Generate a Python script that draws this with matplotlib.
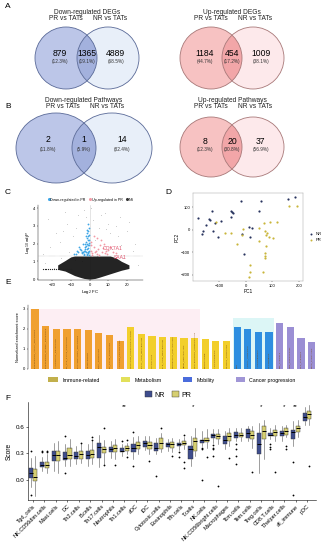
import matplotlib
matplotlib.use('Agg')
import matplotlib.pyplot as plt
from matplotlib.patches import Ellipse, Patch
from matplotlib.lines import Line2D

plt.rcParams['font.family'] = ['Liberation Sans', 'DejaVu Sans']

W, H = 326, 550

# ---------------- data ----------------
# Venn counts (left only, overlap, right only)
deg_down = [879, 1365, 4889]
deg_up = [1184, 454, 1009]
path_down = [2, 1, 14]
path_up = [8, 20, 37]

# volcano (C)
blue_x = [-0.3, -0.5, -0.8, -1.0, -1.2, -1.5, -1.8, -2.1, -2.5, -3.0, -3.5, -4.2, -5.0, -6.0, -7.2,
          -8.5, -0.4, -0.7, -1.1, -1.6, -2.2, -2.8, -0.6, -1.3, -0.9, -2.0, -3.8, -5.5, -0.5, -1.4,
          -0.2, -0.6, -1.0, -1.7, -2.4, -3.2, -4.5, -0.3, -0.8, -1.5, -2.6, -0.4, -1.2, -3.4, -6.5]
blue_y = [2.9, 2.5, 2.2, 1.9, 2.6, 1.7, 2.1, 1.5, 1.8, 1.6, 2.0, 1.45, 1.7, 1.5, 1.4,
          1.42, 1.6, 1.45, 1.5, 2.3, 2.0, 1.4, 3.1, 1.35, 1.75, 2.4, 1.55, 1.8, 2.05, 2.75,
          1.9, 1.55, 2.45, 1.85, 1.6, 1.38, 1.62, 2.2, 2.7, 1.4, 1.7, 1.35, 1.95, 1.5, 1.6]
red_x = [0.5, 1.0, 1.5, 2.2, 3.0, 3.8, 4.5, 5.5, 6.5, 7.5, 8.5, 9.5, 11, 12.5, 14, 1.2, 2.5, 4.0, 6.0,
         8.0, 10.0, 0.8, 3.3, 5.0, 7.0]
red_y = [1.6, 2.1, 1.45, 1.8, 1.5, 2.3, 1.7, 1.9, 1.55, 2.0, 1.6, 1.4, 1.8, 1.5, 1.45, 1.35, 2.4, 1.4, 2.2,
         1.45, 1.65, 1.9, 1.6, 1.38, 1.75]
gray_x = [-24, -21, -18, -15, -12, -9, -6, -3, 2, 5, 8, 11, 14, 17, 20, 23, 26, -22, -16, -11, -7, -2, 3, 9,
          15, 21, -19, -13, -4, 6, 12, 18, 24, -8, 1, 10, -25, -14, 4, 16]
gray_y = [0.9, 1.8, 2.6, 1.2, 3.1, 2.4, 3.6, 3.9, 3.3, 2.9, 3.7, 2.6, 3.0, 1.9, 2.7, 1.6, 0.8, 3.4, 2.1, 1.5,
          2.9, 3.5, 2.2, 2.8, 2.4, 3.2, 0.6, 3.8, 1.0, 3.6, 1.7, 1.2, 2.0, 1.1, 4.0, 3.1, 1.4, 2.7, 1.3, 3.5]
tail_x = [-25, -24, -23, -22, -21, -20, -19, -18, -17, -16, -15, -14, -13, -12, -11, -10]
tail_y = [0.55] * 16
ns_x = [-17, -13, -10, -8, -5, -3, 0, 3, 5, 8, 11, 14, 17, 21]
ns_lo = [0.55, 0.45, 0.3, 0.2, 0.1, 0.04, 0.0, 0.04, 0.1, 0.2, 0.3, 0.4, 0.5, 0.6]
ns_hi = [0.8, 1.05, 1.25, 1.3, 1.3, 1.3, 1.3, 1.3, 1.3, 1.3, 1.3, 1.2, 1.0, 0.8]
genes = ['COX7A1', 'SAA1']
gene_x = [12.5, 16.5]
gene_y = [1.75, 1.24]

# PCA (D)
nr_pc1 = [-179, -162, -160, -150, -137, -135, -125, -122, -116, -104, -91, -54, -51, -47, -54, -19,
          -14, 12, 17, 25, 49, 56, -6, 159, 184]
nr_pc2 = [52, -19, -7, 22, 46, 43, 82, -7, 30, -30, 40, 85, 79, 75, 58, 127,
          -19, 12, -30, 7, 82, 130, -109, 137, 145]
pr_pc1 = [-112, -79, -54, -32, -10, -15, 52, 69, 71, 75, 52, 81, 87, 92, 102, 117, 77, 71, 74, 71,
          15, 17, 12, 65, 162, 194]
pr_pc2 = [37, -12, -12, -64, 3, -22, 7, 30, -7, -22, -52, -15, -34, 37, -37, 37, -72, -104, -115, -127,
          -157, -190, -209, -190, 104, 107]

# enrichment (E)
nes = [2.98, 2.16, 2.0, 2.0, 1.98, 1.93, 1.8, 1.7, 1.4,
       2.1, 1.77, 1.67, 1.58, 1.58, 1.56, 1.54, 1.52, 1.42, 1.42,
       2.1, 2.0, 1.86, 1.84,
       2.28, 2.1, 1.53, 1.37]
groups = ['Immune-related'] * 9 + ['Metabolism'] * 10 + ['Mobility'] * 4 + ['Cancer progression'] * 4
pathways = ['INTERFERON_ALPHA_RESPONSE', 'INTERFERON_GAMMA_RESPONSE', 'ALLOGRAFT_REJECTION',
            'IL6_JAK_STAT3_SIGNALING', 'INFLAMMATORY_RESPONSE', 'COMPLEMENT', 'TNFA_SIGNALING',
            'IL2_STAT5_SIGNALING', 'ANTIGEN_PROCESSING',
            'OXIDATIVE_PHOSPHORYLATION', 'FATTY_ACID_METABOLISM', 'GLYCOLYSIS', 'BILE_ACID_METABOLISM',
            'XENOBIOTIC_METABOLISM', 'HEME_METABOLISM', 'CHOLESTEROL_HOMEOSTASIS', 'PEROXISOME',
            'ADIPOGENESIS', 'MTORC1_SIGNALING',
            'EMT', 'APICAL_JUNCTION', 'ANGIOGENESIS', 'MYOGENESIS',
            'E2F_TARGETS', 'G2M_CHECKPOINT', 'MYC_TARGETS', 'KRAS_SIGNALING']

# immune infiltration (F)
cells = ['Tgd_cells', 'NK.CD56dim.cells', 'Mast.cells', 'DC', 'Th2.cells', 'B.cells', 'Th17.cells',
         'Neutrophils', 'Th1.cells', 'aDC', 'iDC', 'Cytotoxic.cells', 'Eosinophils', 'Tfh.cells',
         'T.cells', 'NK.cells', 'NK.CD56bright.cells', 'Macrophages', 'Tcm.cells', 'Tem.cells',
         'Treg.cells', 'CD8.T.cells', 'T.helper.cells', 'all_immune', 'pDC']
nr_q1 = [.02, .14, .21, .22, .23, .24, .25, .31, .31, .315, .375, .33, .37, .38, .23, .42, .475, .40, .475, .475, .29, .49, .49, .46, .66]
nr_med = [.08, .165, .28, .25, .27, .28, .375, .345, .33, .355, .42, .36, .40, .40, .345, .45, .505, .455, .51, .53, .40, .51, .53, .54, .71]
nr_q3 = [.13, .195, .33, .31, .31, .33, .42, .375, .355, .40, .44, .41, .42, .42, .38, .455, .52, .49, .54, .57, .53, .53, .55, .56, .76]
nr_lo = [-.08, .10, .10, .16, .18, .16, .14, .25, .27, .23, .34, .29, .33, .34, .16, .38, .42, .345, .44, .44, .08, .46, .44, .38, .62]
nr_hi = [.25, .26, .42, .40, .38, .40, .51, .44, .40, .48, .49, .47, .46, .46, .49, .55, .57, .55, .59, .61, .64, .59, .61, .66, .82]
nr_out = [[.32, -.17], [.31, .33], [], [.49, .075], [], [], [], [], [.44], [.54, .15], [], [.045], [],
          [.31, .26], [], [.36, .345, .0], [.39, .36, .345, .27], [], [.40, .35, .27, .175], [], [],
          [.40, .375, .35], [], [.20, -.17], []]
pr_q1 = [-.01, .13, .21, .23, .24, .25, .30, .31, .33, .345, .345, .345, .36, .39, .325, .43, .465, .44, .485, .46, .46, .50, .51, .54, .69]
pr_med = [.03, .17, .28, .28, .29, .29, .345, .355, .36, .39, .39, .42, .40, .41, .44, .455, .495, .50, .51, .51, .55, .54, .55, .59, .74]
pr_q3 = [.12, .195, .33, .36, .32, .34, .375, .39, .38, .43, .43, .475, .43, .44, .475, .475, .515, .53, .53, .55, .61, .56, .58, .61, .78]
pr_lo = [-.18, .08, .08, .16, .19, .18, .18, .23, .29, .29, .29, .31, .31, .35, .27, .36, .40, .38, .44, .36, .23, .44, .48, .48, .62]
pr_hi = [.27, .29, .44, .46, .40, .44, .45, .46, .41, .50, .50, .53, .47, .48, .58, .57, .57, .59, .59, .61, .68, .62, .62, .68, .85]
pr_out = [[], [.31, .33], [], [], [.42], [.48, .45], [.58, .165], [.165], [.45, .26], [], [.21], [.58], [.27],
          [.51, .20, .13], [], [.26], [-.075], [.25], [], [.09], [], [.09], [.38, .35], [], [.16]]
sig_idx = [8, 14, 20, 22, 23]
sig_txt = ['**', '*', '*', '*', '**']


# ---------------- figure ----------------
fig = plt.figure(figsize=(W / 100, H / 100), dpi=100)


def px_axes(x0, y0, x1, y1):
    return fig.add_axes([x0 / W, 1 - y1 / H, (x1 - x0) / W, (y1 - y0) / H])


canvas = fig.add_axes([0, 0, 1, 1])
canvas.set_xlim(0, W)
canvas.set_ylim(H, 0)
canvas.axis('off')


def venn(counts, cl, cr, cy, rx, ry, cols, edge, title, ty, num_y, pct_y):
    left = Ellipse((cl, cy), 2 * rx, 2 * ry, fc=cols[0], ec='none', zorder=1)
    right = Ellipse((cr, cy), 2 * rx, 2 * ry, fc=cols[2], ec='none', zorder=1)
    canvas.add_patch(left)
    canvas.add_patch(right)
    inter = Ellipse((cl, cy), 2 * rx, 2 * ry, fc=cols[1], ec='none', zorder=2)
    canvas.add_patch(inter)
    inter.set_clip_path(right)
    for c in (cl, cr):
        canvas.add_patch(Ellipse((c, cy), 2 * rx, 2 * ry, fc='none', ec=edge, lw=0.6, zorder=3))
    total = sum(counts)
    mid = (cl + cr) / 2
    xs = [cl - rx * 0.2, mid, cr + rx * 0.25]
    for x, n in zip(xs, counts):
        canvas.text(x, num_y, str(n), ha='center', va='center', fontsize=6.2, zorder=4)
        canvas.text(x, pct_y, '(%.1f%%)' % (100 * n / total), ha='center', va='center',
                    fontsize=3.4, color='#333333', zorder=4)
    canvas.text(mid, ty, title, ha='center', va='center', fontsize=4.8, color='#222222')
    canvas.text(mid - 21, ty + 7, 'PR vs TATs', ha='center', va='center', fontsize=4.8, color='#222222')
    canvas.text(mid + 23, ty + 7, 'NR vs TATs', ha='center', va='center', fontsize=4.8, color='#222222')


blues = ['#bcc6e8', '#a3b1dd', '#e8eff9']
reds = ['#f7c2c2', '#f2a6a8', '#fde9eb']
venn(deg_down, 66, 108, 58, 31, 31, blues, '#5a6a98', 'Down-regulated DEGs', 12, 53, 62)
venn(deg_up, 211, 253, 58, 31, 31, reds, '#a87878', 'Up-regulated DEGs', 12, 53, 62)
venn(path_down, 56, 112, 148, 40, 35, blues, '#5a6a98', 'Down-regulated Pathways', 100, 140, 149)
venn(path_up, 211, 253, 147, 31, 30, reds, '#a87878', 'Up-regulated Pathways', 100, 142, 150)

for lab, x, y in [('A', 5, 7), ('B', 5, 107), ('C', 5, 192), ('D', 165, 192), ('E', 5, 283), ('F', 5, 398)]:
    canvas.text(x, y, lab, fontsize=6, ha='left', va='center')

# ---------------- C: volcano ----------------
axc = px_axes(38, 205, 143, 280)
axc.scatter(gray_x, gray_y, s=0.4, c='#c4c4c4', lw=0, zorder=1)
axc.fill_between(ns_x, ns_lo, ns_hi, color='#111111', alpha=0.92, lw=0, zorder=2)
axc.scatter(tail_x, tail_y, s=0.8, c='#222222', lw=0, zorder=3)
axc.scatter(blue_x, blue_y, s=1.7, c='#3ea6e6', lw=0, zorder=4)
axc.scatter(red_x, red_y, s=1.7, c='#f39aa6', lw=0, zorder=4)
axc.axhline(1.3, color='#888888', lw=0.3, ls=':', zorder=5)
axc.axvline(0, color='#d0d0d0', lw=0.4, zorder=0)
for g, x, y in zip(genes, gene_x, gene_y):
    axc.text(x, y, g, fontsize=3.6, color='#e0506a', ha='center', va='center', zorder=6)
axc.set_xlim(-27.5, 28.5)
axc.set_ylim(-0.05, 4.17)
axc.set_xticks([-20, -10, 0, 10, 20])
axc.set_yticks([0, 1, 2, 3, 4])
axc.tick_params(labelsize=3, length=1, width=0.3, pad=1)
axc.set_xlabel('Log$_2$ FC', fontsize=3.2, labelpad=1)
axc.set_ylabel('Log$_{10}$ adjP', fontsize=3.2, labelpad=1)
for s in ['top', 'right']:
    axc.spines[s].set_visible(False)
for s in ['left', 'bottom']:
    axc.spines[s].set_linewidth(0.3)
hc = [Line2D([], [], ls='', marker='o', ms=1.2, color=c) for c in ['#3ea6e6', '#f39aa6', '#333333']]
axc.legend(hc, ['Down-regulated in PR', 'Up-regulated in PR', 'NS'], ncol=3, fontsize=2.6,
           loc='lower center', bbox_to_anchor=(0.5, 1.02), frameon=False, handletextpad=0.1,
           columnspacing=0.8, borderpad=0, handlelength=0.8)

# ---------------- D: PCA ----------------
axd = px_axes(193, 193, 303, 281)
axd.scatter(nr_pc1, nr_pc2, s=2.5, c='#27335e', lw=0, label='NR')
axd.scatter(pr_pc1, pr_pc2, s=2.5, c='#c9b53a', lw=0, label='PR')
axd.set_xlim(-197, 215)
axd.set_ylim(-228, 164)
axd.set_xticks([-100, 0, 100, 200])
axd.set_yticks([-200, -100, 0, 100])
axd.tick_params(labelsize=3, length=1, width=0.3, pad=1)
axd.set_xlabel('PC1', fontsize=3.4, labelpad=1)
axd.set_ylabel('PC2', fontsize=3.4, labelpad=1)
for s in axd.spines.values():
    s.set_linewidth(0.3)
    s.set_color('#999999')
axd.legend(fontsize=3, loc='center left', bbox_to_anchor=(1.02, 0.5), frameon=False,
           handletextpad=0.1, markerscale=0.9, borderpad=0, labelspacing=0.4)

# ---------------- E: enrichment bars ----------------
bar_col = {'Immune-related': '#f0a030', 'Metabolism': '#f2cf2c', 'Mobility': '#2e8ee0',
           'Cancer progression': '#9b8fd4'}
leg_col = {'Immune-related': '#c2b04c', 'Metabolism': '#e2e05a', 'Mobility': '#4a6cdc',
           'Cancer progression': '#a096d6'}
axe = px_axes(28, 305, 318, 369)
xs = list(range(len(nes)))
axe.axvspan(-0.5, 15.5, ymin=0, ymax=0.93, color='#fdeef3', lw=0, zorder=0)
axe.axvspan(18.6, 22.5, ymin=0, ymax=0.8, color='#dcf6f6', lw=0, zorder=0)
axe.bar(xs, nes, width=0.68, color=[bar_col[g] for g in groups], zorder=2)
for x, v, name in zip(xs, nes, pathways):
    axe.text(x, 0.05, name, rotation=90, fontsize=1.7, color='#7a4a10', ha='center', va='bottom', zorder=3)
axe.set_xlim(-0.66, 26.6)
axe.set_ylim(0, 3.2)
axe.set_yticks([0, 1, 2, 3])
axe.set_xticks([])
axe.tick_params(labelsize=3, length=1, width=0.3, pad=1)
axe.set_ylabel('Normalized enrichment score', fontsize=2.8, labelpad=2)
for s in ['top', 'right', 'bottom']:
    axe.spines[s].set_visible(False)
axe.spines['left'].set_linewidth(0.3)
he = [Patch(fc=leg_col[g], ec='none') for g in leg_col]
fig.legend(he, list(leg_col), ncol=4, fontsize=3.8, loc='center', bbox_to_anchor=(172 / W, 1 - 380 / H),
           frameon=False, handlelength=1.8, handleheight=0.9, columnspacing=4, handletextpad=0.8)

# ---------------- F: immune boxplots ----------------
axf = px_axes(28, 402, 316, 500)
nr_stats, pr_stats = [], []
for i in range(len(cells)):
    nr_stats.append(dict(med=nr_med[i], q1=nr_q1[i], q3=nr_q3[i], whislo=nr_lo[i], whishi=nr_hi[i],
                         fliers=nr_out[i]))
    pr_stats.append(dict(med=pr_med[i], q1=pr_q1[i], q3=pr_q3[i], whislo=pr_lo[i], whishi=pr_hi[i],
                         fliers=pr_out[i]))
pos = list(range(len(cells)))
for stats, off, col in [(nr_stats, -0.2, '#3e4d8d'), (pr_stats, 0.2, '#d6cf72')]:
    axf.bxp(stats, positions=[p + off for p in pos], widths=0.36, patch_artist=True,
            boxprops=dict(facecolor=col, edgecolor='#333333', lw=0.3),
            medianprops=dict(color='black', lw=0.7),
            whiskerprops=dict(color='#555555', lw=0.4), capprops=dict(lw=0),
            flierprops=dict(marker='o', ms=1.3, mfc='black', mec='none'))
for i, t in zip(sig_idx, sig_txt):
    axf.text(i, 0.83, t, ha='center', va='center', fontsize=4.5)
axf.set_xlim(-0.44, 24.79)
axf.set_ylim(-0.23, 0.88)
axf.set_xticks(pos)
axf.set_xticklabels(cells, rotation=45, ha='right', rotation_mode='anchor', fontsize=4)
axf.set_yticks([0.0, 0.3, 0.6])
axf.set_yticklabels(['0.0', '0.3', '0.6'])
axf.tick_params(axis='y', labelsize=4.5, length=1.5, width=0.4, pad=1)
axf.tick_params(axis='x', length=1.5, width=0.4, pad=1)
axf.set_ylabel('Score', fontsize=4.8, labelpad=2)
for s in ['top', 'right']:
    axf.spines[s].set_visible(False)
for s in ['left', 'bottom']:
    axf.spines[s].set_linewidth(0.4)
hf = [Patch(fc='#3e4d8d', ec='#333333', lw=0.3), Patch(fc='#d6cf72', ec='#333333', lw=0.3)]
fig.legend(hf, ['NR', 'PR'], ncol=2, fontsize=5, loc='center', bbox_to_anchor=(168 / W, 1 - 395 / H),
           frameon=False, handlelength=1.0, handleheight=0.9, columnspacing=1.0, handletextpad=0.4)

fig.savefig('out.png', dpi=100)
